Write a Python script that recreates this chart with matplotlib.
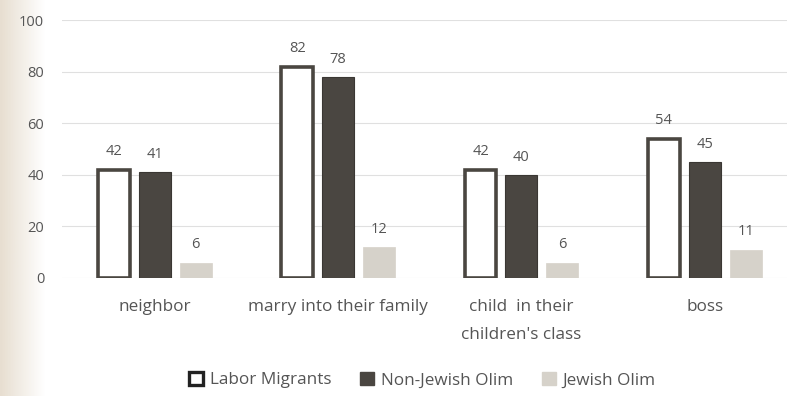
import matplotlib.pyplot as plt
import numpy as np
from matplotlib.patches import Patch

plt.rcParams['font.family'] = ['Open Sans', 'DejaVu Sans']

categories = ['neighbor', 'marry into their family', 'child  in their\nchildren\'s class', 'boss']
labor_migrants = [42, 82, 42, 54]
non_jewish_olim = [41, 78, 40, 45]
jewish_olim = [6, 12, 6, 11]
series_names = ['Labor Migrants', 'Non-Jewish Olim', 'Jewish Olim']

text_color = '#555555'
dark = '#4a4641'
light = '#d6d2ca'

fig = plt.figure(figsize=(7.88, 3.96), dpi=100)
fig.patch.set_facecolor('white')

# paper tint along the left edge of the page
bg = fig.add_axes([0, 0, 1, 1], zorder=-10)
grad = np.clip(1 - np.linspace(0, 1, 300) * 18, 0, 1)[None, :]
tint = np.ones((1, 300, 4))
tint[..., 0], tint[..., 1], tint[..., 2] = 0.90, 0.86, 0.80
tint[..., 3] = grad * 0.9
bg.imshow(tint, aspect='auto', extent=[0, 1, 0, 1])
bg.set_xlim(0, 1)
bg.set_ylim(0, 1)
bg.axis('off')

ax = fig.add_axes([0.079, 0.298, 0.92, 0.651])
ax.set_facecolor('none')

x = np.arange(len(categories))
w = 0.174
step = 0.223

b1 = ax.bar(x - step, labor_migrants, w, facecolor='white', edgecolor=dark, linewidth=2.6, zorder=3)
b2 = ax.bar(x, non_jewish_olim, w, facecolor=dark, edgecolor='#3a3733', linewidth=0.8, zorder=3)
b3 = ax.bar(x + step, jewish_olim, w, facecolor=light, edgecolor=light, linewidth=0.5, zorder=3)

for bars, vals in [(b1, labor_migrants), (b2, non_jewish_olim), (b3, jewish_olim)]:
    for bar, v in zip(bars, vals):
        ax.text(bar.get_x() + bar.get_width() / 2, v + 4, str(v), ha='center', va='bottom',
                fontsize=10.5, color=text_color)

ax.set_ylim(0, 100)
ax.set_xlim(-0.505, 3.45)
ax.set_yticks([0, 20, 40, 60, 80, 100])
ax.yaxis.grid(True, color='#e0e0e0', linewidth=0.8, zorder=0)
ax.set_axisbelow(True)
for s in ax.spines.values():
    s.set_visible(False)
ax.tick_params(axis='y', length=0, pad=13, labelsize=10.5, labelcolor=text_color)
ax.tick_params(axis='x', length=0, pad=15, labelsize=12.3, labelcolor=text_color)
ax.set_xticks(x)
ax.set_xticklabels(categories, linespacing=2.0, va='top')
for lbl in ax.get_yticklabels():
    lbl.set_horizontalalignment('right')

handles = [Patch(facecolor='white', edgecolor='#222222', linewidth=2.4),
           Patch(facecolor=dark, edgecolor=dark),
           Patch(facecolor=light, edgecolor=light)]
leg = fig.legend(handles, series_names, loc='center', bbox_to_anchor=(0.536, 0.04), ncol=3,
                 frameon=False, fontsize=12.3, handlelength=0.8, handleheight=0.8,
                 columnspacing=1.7, handletextpad=0.4)
for t in leg.get_texts():
    t.set_color(text_color)

fig.savefig('out.png', dpi=100, facecolor='white')
